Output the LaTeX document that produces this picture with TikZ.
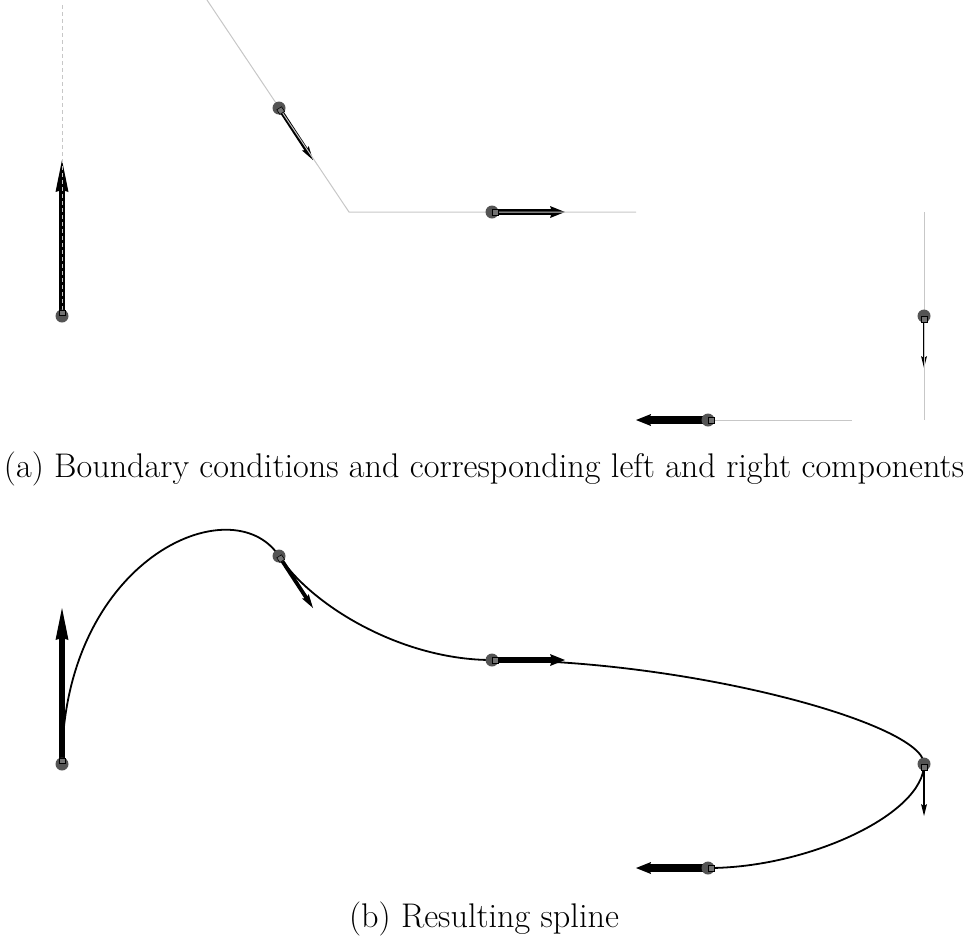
\documentclass[tikz,border=0pt]{standalone}
\usepackage{tikz}
\usetikzlibrary{arrows.meta, calc}

\begin{document}
\begin{tikzpicture}[x=0.5pt,y=-0.5pt,
  guide/.style={line width=0.5pt, black!22},
  spline/.style={line width=0.9pt, black},
  knot/.style={circle, fill=black!67, inner sep=0pt, minimum size=6.5pt},
  tail/.style={draw=black, fill=black!55, line width=0.3pt, inner sep=0pt, minimum size=2.8pt},
  caption/.style={font=\fontsize{17.1}{20}\selectfont, anchor=base}]
\useasboundingbox (0,0) rectangle (967,944);
% knots and their vectors, top (a) and bottom (b)
\foreach \pan/\dy in {a/0,b/448} {
  \foreach \i/\px/\py/\qx/\qy/\lw/\hl/\hw in {1/62/316/62/160/3.2/16/6.5,
      2/279/108/313/160/1.9/7/4, 3/492/212/565/212/3.2/7.5/6,
      4/924/316/924/368/1.3/6/3, 5/708/420/636/420/3.8/7.5/6} {
    \coordinate (\pan\i) at (\px,\py+\dy);
    \coordinate (t\pan\i) at (\qx,\qy+\dy);
  }
}
% resulting spline
\draw[spline] (b1) .. controls +(0,-205) and +(-47,-71) .. (b2)
  .. controls +(33,50) and +(-90,0) .. (b3)
  .. controls +(200,0) and +(0,-40) .. (b4)
  .. controls +(0,50) and +(100,0) .. (b5);
\foreach \pan in {a,b} {
  \foreach \i/\lw/\hl/\hw in {1/3.2/16/6.5, 2/1.9/7/4, 3/3.2/7.5/6, 4/1.3/6/3, 5/3.8/7.5/6}
    \draw[line width=\lw pt, -{Stealth[length=\hl pt, width=\hw pt, inset=1pt, line width=0pt]}] (\pan\i) -- (t\pan\i);
}
% left and right components
\coordinate (g0) at (62,5);
\coordinate (g1) at (207,0);
\coordinate (g2) at (349,212);
\coordinate (g3) at (636,212);
\coordinate (g4) at (852,420);
\coordinate (g5) at (924,212);
\coordinate (g6) at (924,420);
\draw[guide, dash pattern=on 2pt off 1.5pt] (g0) -- (a1);
\draw[guide] (g1) -- (g2) -- (g3);
\draw[guide] (a5) -- (g4);
\draw[guide] (g5) -- (g6);
\foreach \pan in {a,b} {
  \foreach \i in {1,...,5} {
    \node[knot] (k\pan\i) at (\pan\i) {};
    \path (\pan\i) -- (t\pan\i) node[pos=0, sloped, anchor=west, tail] (s\pan\i) {};
  }
}
\node[caption] (capa) at (484,477) {(a) Boundary conditions and corresponding left and right components};
\node[caption] (capb) at (484,927) {(b) Resulting spline};
\end{tikzpicture}
\end{document}
